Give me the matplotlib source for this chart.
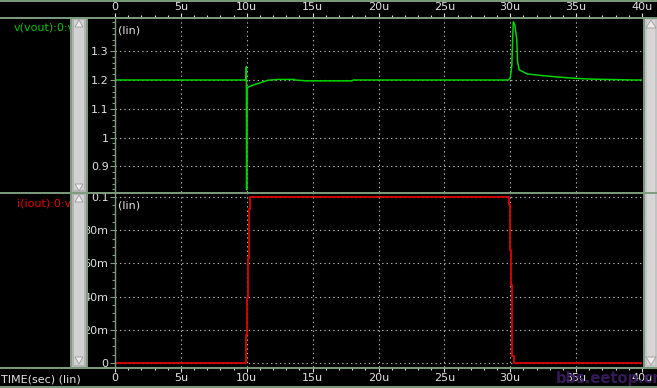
import numpy as np
import matplotlib.pyplot as plt
from matplotlib.ticker import MultipleLocator
from matplotlib.patches import Rectangle, Polygon
from matplotlib.lines import Line2D

# time axis in microseconds
t_v = [0, 9.95, 9.97, 9.99, 10.02, 10.1, 10.45, 11.0, 11.6, 12.35, 13.6, 13.7,
       14.5, 18.0, 18.1, 29.85, 30.0, 30.12, 30.23, 30.35, 30.5, 30.55, 30.68,
       31.3, 32.3, 33.45, 34.85, 36.2, 39.4, 40]
v_out = [1.2, 1.2, 1.246, 0.818, 1.168, 1.175, 1.182, 1.19, 1.199, 1.202, 1.202, 1.2,
         1.197, 1.197, 1.2, 1.2, 1.206, 1.252, 1.402, 1.391, 1.339, 1.264, 1.235,
         1.221, 1.216, 1.211, 1.206, 1.203, 1.2, 1.2]

t_i = [0, 9.98, 9.98, 10.05, 10.05, 10.13, 10.13, 10.2, 10.2, 10.28, 10.28,
       29.87, 29.87, 29.95, 29.95, 30.02, 30.02, 30.1, 30.1, 30.17, 30.17, 30.25, 30.25, 40]
i_out = [0, 0, 0.017, 0.017, 0.039, 0.039, 0.063, 0.063, 0.093, 0.093, 0.1002,
         0.1002, 0.095, 0.095, 0.068, 0.068, 0.047, 0.047, 0.023, 0.023, 0.004, 0.004, 0, 0]

x_ticks = [0, 5, 10, 15, 20, 25, 30, 35, 40]
x_labels = ["0", "5u", "10u", "15u", "20u", "25u", "30u", "35u", "40u"]
v_ticks = [0.9, 1.0, 1.1, 1.2, 1.3]
v_labels = ["0.9", "1", "1.1", "1.2", "1.3"]
i_ticks = [0, 0.02, 0.04, 0.06, 0.08, 0.1]
i_labels = ["0", "20m", "40m", "60m", "80m", "0.1"]

W, H = 657, 388
frame = '#7d9c7d'
txt = '#e0e0e0'
green = '#00d400'
red = '#dd0000'


def box(x0, y0, x1, y1):
    return [x0 / W, 1 - y1 / H, (x1 - x0) / W, (y1 - y0) / H]


def fx(x):
    return x / W


def fy(y):
    return 1 - y / H


fig = plt.figure(figsize=(W / 100, H / 100), dpi=100, facecolor='black')

ax1 = fig.add_axes(box(115, 18, 642, 192))
ax2 = fig.add_axes(box(115, 193, 642, 367))

for ax in (ax1, ax2):
    ax.set_facecolor('black')
    ax.set_xlim(0, 40)
    for s in ax.spines.values():
        s.set_visible(False)
    ax.set_xticks(x_ticks)
    ax.xaxis.set_minor_locator(MultipleLocator(1))
    ax.grid(True, which='major', color='#b8b8b8', linestyle=(0, (1.2, 2.8)), linewidth=0.8)
    ax.tick_params(axis='x', which='major', length=3.6, width=0.8, color=txt,
                   labelcolor=txt, labelsize=8, pad=1)
    ax.tick_params(axis='x', which='minor', length=2.2, width=0.8, color=txt)
    ax.tick_params(axis='y', which='major', length=3.6, width=0.8, color=frame,
                   labelcolor=txt, labelsize=8, pad=1)
    ax.tick_params(axis='y', which='minor', length=2.0, width=0.8, color=frame)

ax1.xaxis.tick_top()
ax1.set_xticklabels(x_labels)
ax1.set_ylim(0.8111, 1.4153)
ax1.set_yticks(v_ticks)
ax1.set_yticklabels(v_labels)
ax1.yaxis.set_minor_locator(MultipleLocator(0.02))
ax1.plot(t_v, v_out, color=green, lw=1.1, zorder=3)
ax1.text(0.006, 0.955, "(lin)", transform=ax1.transAxes, color=txt, fontsize=8,
         ha='left', va='top')

ax2.set_xticklabels(x_labels)
ax2.set_ylim(-0.00241, 0.10241)
ax2.set_yticks(i_ticks)
ax2.set_yticklabels(i_labels)
ax2.yaxis.set_minor_locator(MultipleLocator(0.005))
ax2.plot(t_i, i_out, color=red, lw=1.3, zorder=3)
ax2.text(0.006, 0.955, "(lin)", transform=ax2.transAxes, color=txt, fontsize=8,
         ha='left', va='top')

# signal names, clipped by the scrollbar drawn over them
fig.text(fx(14), fy(27), "v(vout):0:v", color='#00c000', fontsize=8, ha='left', va='center')
fig.text(fx(17), fy(203), "i(iout):0:vd", color='#e00000', fontsize=8, ha='left', va='center')
fig.text(fx(1), fy(380), "TIME(sec) (lin)", color=txt, fontsize=8, ha='left', va='center')


# frame lines
def hline(y, x0=0, x1=W, lw=1.4):
    fig.add_artist(Line2D([fx(x0), fx(x1)], [fy(y), fy(y)], color=frame, lw=lw, zorder=6))


def vline(x, y0, y1, lw=1.4):
    fig.add_artist(Line2D([fx(x), fx(x)], [fy(y0), fy(y1)], color=frame, lw=lw, zorder=6))


def rect(x0, y0, x1, y1, c):
    fig.add_artist(Rectangle((fx(x0), fy(y1)), (x1 - x0) / W, (y1 - y0) / H,
                             facecolor=c, edgecolor='none', zorder=5))


def tri(pts):
    fig.add_artist(Polygon([(fx(a), fy(b)) for a, b in pts], closed=True,
                           facecolor='#ececec', edgecolor='#9a9a9a', lw=0.6, zorder=7))


# left scrollbars (cover the end of the long names)
rect(70, 18, 88, 367, '#b4b4b4')
rect(74, 20, 84, 190, '#d2d2d2')
rect(74, 195, 84, 365, '#d2d2d2')
tri([(79, 20), (75, 27), (83, 27)])
tri([(75, 184), (83, 184), (79, 191)])
tri([(79, 195), (75, 202), (83, 202)])
tri([(75, 357), (83, 357), (79, 364)])

# right scrollbar
rect(645, 18, 657, 367, '#c4c4c4')
rect(647, 20, 655, 365, '#d6d6d6')
tri([(651, 20), (646, 28), (656, 28)])
tri([(646, 357), (656, 357), (651, 365)])

hline(0.7)
hline(17.5)
hline(192.6)
hline(367.5)
hline(387)
vline(115, 17.5, 367.5, lw=1.0)
vline(71, 17.5, 367.5)
vline(87, 17.5, 367.5)
vline(643.5, 17.5, 367.5)

fig.text(fx(610), fy(378), "bbs.eetop.cn", color='#3c1c60', fontsize=10.5, fontweight='bold',
         ha='center', va='center', alpha=0.9, zorder=8)

fig.savefig('out.png', dpi=100, facecolor='black')
